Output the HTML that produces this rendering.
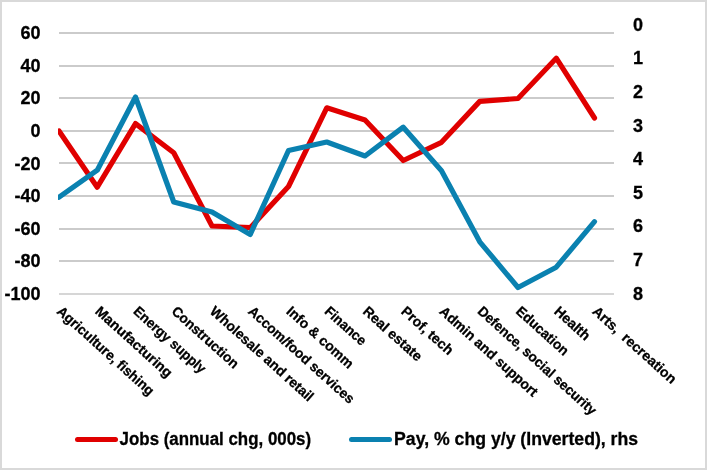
<!DOCTYPE html>
<html><head><meta charset="utf-8"><style>
html,body{margin:0;padding:0;background:#fff;width:707px;height:470px;overflow:hidden}
svg{display:block;will-change:transform}
text{font-family:"Liberation Sans",sans-serif;font-weight:bold;fill:#000;stroke:#000;stroke-width:0.3px}
.ax{font-size:18px}
.cat{font-size:14px;white-space:pre}
.leg{font-size:18px}
</style></head><body>
<svg xmlns="http://www.w3.org/2000/svg" width="707" height="470" viewBox="0 0 707 470">
<rect x="1" y="1" width="705" height="468" fill="#fff" stroke="#d9d9d9" stroke-width="2"/>
<rect x="59" y="32" width="555" height="2" fill="#cbcbcb"/>
<rect x="59" y="65" width="555" height="2" fill="#cbcbcb"/>
<rect x="59" y="97" width="555" height="2" fill="#cbcbcb"/>
<rect x="59" y="130" width="555" height="2" fill="#cbcbcb"/>
<rect x="59" y="162" width="555" height="2" fill="#cbcbcb"/>
<rect x="59" y="195" width="555" height="2" fill="#cbcbcb"/>
<rect x="59" y="228" width="555" height="2" fill="#cbcbcb"/>
<rect x="59" y="260" width="555" height="2" fill="#cbcbcb"/>
<rect x="59" y="293" width="555" height="2" fill="#d6d6d6"/>
<text x="40.5" y="39.10" text-anchor="end" class="ax">60</text>
<text x="40.5" y="71.72" text-anchor="end" class="ax">40</text>
<text x="40.5" y="104.35" text-anchor="end" class="ax">20</text>
<text x="40.5" y="136.97" text-anchor="end" class="ax">0</text>
<text x="40.5" y="169.60" text-anchor="end" class="ax">-20</text>
<text x="40.5" y="202.22" text-anchor="end" class="ax">-40</text>
<text x="40.5" y="234.85" text-anchor="end" class="ax">-60</text>
<text x="40.5" y="267.48" text-anchor="end" class="ax">-80</text>
<text x="40.5" y="300.10" text-anchor="end" class="ax">-100</text>
<text x="633" y="31.00" class="ax">0</text>
<text x="633" y="63.80" class="ax">1</text>
<text x="633" y="98.20" class="ax">2</text>
<text x="633" y="131.50" class="ax">3</text>
<text x="633" y="165.40" class="ax">4</text>
<text x="633" y="199.00" class="ax">5</text>
<text x="633" y="232.20" class="ax">6</text>
<text x="633" y="266.20" class="ax">7</text>
<text x="633" y="299.80" class="ax">8</text>
<clipPath id="c"><rect x="58" y="0" width="600" height="470"/></clipPath>
<polyline clip-path="url(#c)" points="59.00,131.00 97.25,187.20 135.50,123.60 173.75,152.80 212.00,226.00 250.25,227.70 288.50,186.50 326.75,107.80 365.00,120.00 403.25,160.50 441.50,142.30 479.75,101.40 518.00,98.50 556.25,58.20 594.50,118.00" fill="none" stroke="#e00000" stroke-width="5.2" stroke-linejoin="round" stroke-linecap="round"/>
<polyline clip-path="url(#c)" points="59.00,197.20 97.25,170.20 135.50,97.00 173.75,202.00 212.00,212.00 250.25,234.40 288.50,150.50 326.75,142.00 365.00,156.00 403.25,127.20 441.50,170.80 479.75,241.80 518.00,287.50 556.25,267.20 594.50,221.70" fill="none" stroke="#0a81b0" stroke-width="5.2" stroke-linejoin="round" stroke-linecap="round"/>
<text transform="translate(56.00,312.5) rotate(42)" class="cat" textLength="125.2" lengthAdjust="spacingAndGlyphs">Agriculture, fishing</text>
<text transform="translate(94.25,312.5) rotate(42)" class="cat" textLength="98.3" lengthAdjust="spacingAndGlyphs">Manufacturing</text>
<text transform="translate(132.50,312.5) rotate(42)" class="cat" textLength="92.0" lengthAdjust="spacingAndGlyphs">Energy supply</text>
<text transform="translate(170.75,312.5) rotate(42)" class="cat" textLength="84.8" lengthAdjust="spacingAndGlyphs">Construction</text>
<text transform="translate(209.00,312.5) rotate(42)" class="cat" textLength="133.8" lengthAdjust="spacingAndGlyphs">Wholesale and retail</text>
<text transform="translate(247.25,312.5) rotate(42)" class="cat" textLength="137.3" lengthAdjust="spacingAndGlyphs">Accom/food services</text>
<text transform="translate(285.50,312.5) rotate(42)" class="cat" textLength="84.8" lengthAdjust="spacingAndGlyphs">Info &amp; comm</text>
<text transform="translate(323.75,312.5) rotate(42)" class="cat" textLength="50.5" lengthAdjust="spacingAndGlyphs">Finance</text>
<text transform="translate(362.00,312.5) rotate(42)" class="cat" textLength="73.9" lengthAdjust="spacingAndGlyphs">Real estate</text>
<text transform="translate(400.25,312.5) rotate(42)" class="cat" textLength="64.6" lengthAdjust="spacingAndGlyphs">Prof, tech</text>
<text transform="translate(438.50,312.5) rotate(42)" class="cat" textLength="126.8" lengthAdjust="spacingAndGlyphs">Admin and support</text>
<text transform="translate(476.75,312.5) rotate(42)" class="cat" textLength="154.2" lengthAdjust="spacingAndGlyphs">Defence, social security</text>
<text transform="translate(515.00,312.5) rotate(42)" class="cat" textLength="65.6" lengthAdjust="spacingAndGlyphs">Education</text>
<text transform="translate(553.25,312.5) rotate(42)" class="cat" textLength="42.8" lengthAdjust="spacingAndGlyphs">Health</text>
<text transform="translate(591.50,312.5) rotate(42)" class="cat" textLength="107.4" lengthAdjust="spacingAndGlyphs">Arts,  recreation</text>
<line x1="77.5" y1="439.5" x2="115.5" y2="439.5" stroke="#e00000" stroke-width="5" stroke-linecap="round"/>
<text x="119.6" y="444.6" class="leg" textLength="191.5" lengthAdjust="spacingAndGlyphs">Jobs (annual chg, 000s)</text>
<line x1="351.5" y1="439.5" x2="389.5" y2="439.5" stroke="#0a81b0" stroke-width="5" stroke-linecap="round"/>
<text x="394.1" y="444.6" class="leg" textLength="244" lengthAdjust="spacingAndGlyphs">Pay, % chg y/y (Inverted), rhs</text>
</svg>
</body></html>
